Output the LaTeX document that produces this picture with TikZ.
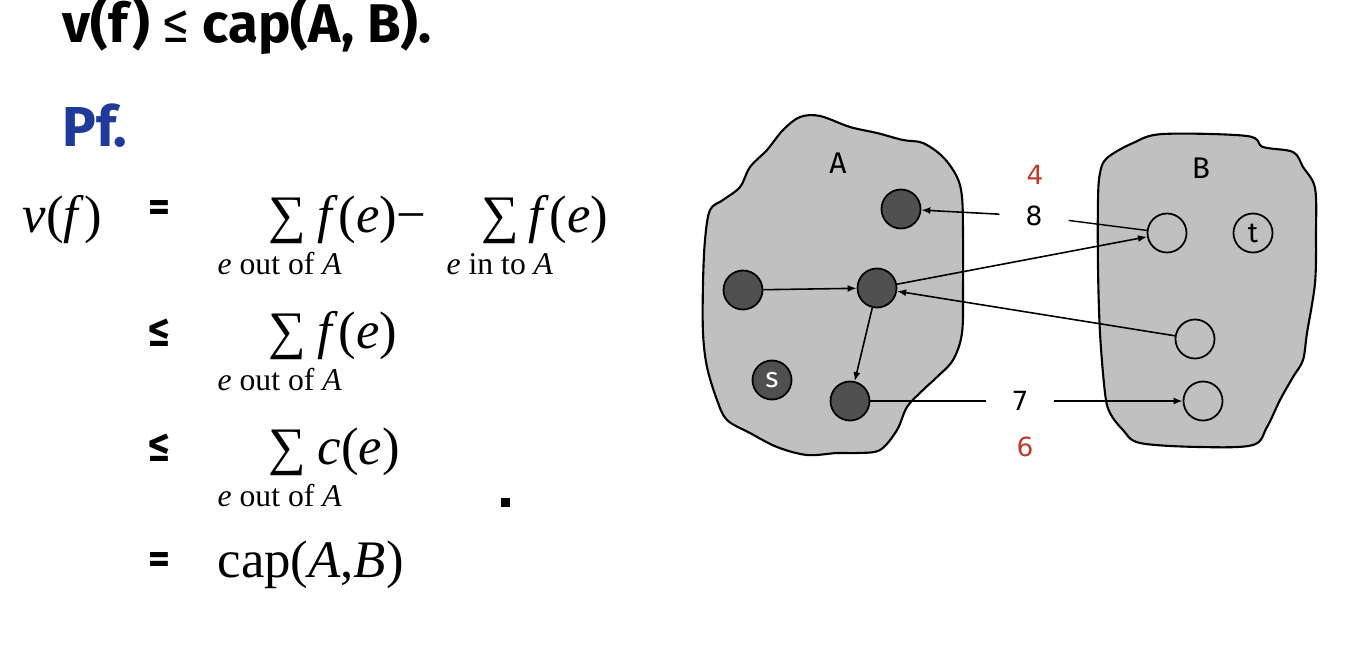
\documentclass[tikz,border=0pt]{standalone}
\usepackage{fontspec}
\setmainfont{Liberation Serif}
\newfontfamily\comicfont{Fira Sans}
\newfontfamily\labelfont{DejaVu Sans}
\usetikzlibrary{arrows.meta}
\definecolor{blobgray}{HTML}{C0C0C0}
\definecolor{vdark}{HTML}{505050}
\definecolor{pfblue}{HTML}{1F3A9A}
\definecolor{flowred}{HTML}{C0392B}

\begin{document}
\begin{tikzpicture}[x=0.01cm,y=-0.01cm,
  ttl/.style={font=\comicfont\bfseries\fontsize{15.5}{18}\selectfont,inner sep=0pt},
  rel/.style={font=\comicfont\bfseries\fontsize{12}{14}\selectfont,inner sep=0pt},
  mth/.style={font=\fontsize{15}{18}\selectfont,inner sep=0pt},
  sub/.style={font=\fontsize{9}{11}\selectfont,inner sep=0pt},
  blob/.style={draw=black,fill=blobgray,line width=0.6pt},
  vin/.style={circle,draw=black,fill=vdark,line width=0.5pt,minimum size=3.9mm,inner sep=0pt},
  vout/.style={circle,draw=black,line width=0.5pt,minimum size=3.9mm,inner sep=0pt},
  setlbl/.style={font=\comicfont\fontsize{8.5}{10}\selectfont,inner sep=0pt},
  flw/.style={font=\labelfont\fontsize{7.5}{9}\selectfont,inner sep=0pt,minimum height=4mm},
  arr/.style={-{Latex[length=0.9mm,width=0.7mm]},line width=0.45pt}]
\useasboundingbox (0,0) rectangle (1360,648);

% claim and proof
\node[ttl,anchor=west] (claim) at (62,25) {v(f) {\mdseries ≤} cap(A,\ B).};
\node[ttl,text=pfblue,anchor=west,font=\comicfont\bfseries\fontsize{16}{18}\selectfont] (pf) at (62,126) {Pf.};

% row 1
\node[mth,anchor=base west] (vf) at (22,232) {\textit{v}(\textit{f})};
\node[rel] (eq1) at (159,211) {=};
\node[mth,anchor=base] (sum1) at (287,232) {∑};
\node[mth,anchor=base west] (t1) at (317,232) {\textit{f}(\textit{e})−};
\node[sub,anchor=base west] (u1) at (217,274) {\textit{e} out of \textit{A}};
\node[mth,anchor=base] (sum2) at (500,232) {∑};
\node[mth,anchor=base west] (t2) at (528,232) {\textit{f}(\textit{e})};
\node[sub,anchor=base west] (u2) at (446,274) {\textit{e} in to \textit{A}};

% row 2
\node[rel] (le1) at (159,333) {≤};
\node[mth,anchor=base] (sum3) at (287,348) {∑};
\node[mth,anchor=base west] (t3) at (317,348) {\textit{f}(\textit{e})};
\node[sub,anchor=base west] (u3) at (217,390) {\textit{e} out of \textit{A}};

% row 3
\node[rel] (le2) at (159,448) {≤};
\node[mth,anchor=base] (sum4) at (287,464) {∑};
\node[mth,anchor=base west] (t4) at (317,464) {\textit{c}(\textit{e})};
\node[sub,anchor=base west] (u4) at (217,506) {\textit{e} out of \textit{A}};
\node[fill=black,minimum size=0.9mm,inner sep=0pt] (qed) at (505,502) {};

% row 4
\node[rel] (eq2) at (159,563) {=};
\node[mth,anchor=base west] (t5) at (217,577) {cap(\textit{A},\textit{B})};

% the two sides of the cut
\draw[blob] plot[smooth cycle,tension=0.55] coordinates {(800,117) (820,116) (850,127)
  (877,133) (903,140) (923,143) (943,157) (957,177) (962,197) (963,233) (963,287)
  (962,333) (953,360) (937,377) (923,390) (907,407) (897,430) (880,450) (857,453)
  (837,453) (807,455) (777,447) (750,433) (727,420) (717,400) (707,367) (703,333)
  (703,283) (705,240) (710,210) (723,200) (740,187) (750,167) (767,150) (783,130)};
\draw[blob] plot[smooth cycle,tension=0.55] coordinates {(1107,158) (1133,143) (1163,134)
  (1247,136) (1263,147) (1293,152) (1303,167) (1315,188) (1316,233) (1315,283)
  (1307,333) (1303,360) (1293,377) (1280,400) (1267,427) (1253,445) (1200,447)
  (1140,443) (1123,430) (1110,413) (1105,393) (1100,333) (1098,267) (1098,200)
  (1100,173)};
\node[setlbl] (lA) at (838,163) {A};
\node[setlbl] (lB) at (1201,168) {B};

% vertices
\node[vin] (a1) at (901,209) {};
\node[vin] (a2) at (743,290) {};
\node[vin] (a3) at (877,288) {};
\node[vin,text=white,font=\comicfont\fontsize{8}{10}\selectfont] (s) at (772,380) {s};
\node[vin] (a4) at (850,401) {};
\node[vout] (b1) at (1167,233) {};
\node[vout,font=\comicfont\fontsize{8}{10}\selectfont] (t) at (1253,233) {t};
\node[vout] (b2) at (1195,339) {};
\node[vout] (b3) at (1203,401) {};

% capacities and flows
\node[flw,minimum width=6.8mm] (l8) at (1034,216) {8};
\node[flw,minimum width=6.6mm] (l7) at (1020,401) {7};
\node[flw,text=flowred] (f4) at (1035,175) {4};
\node[flw,text=flowred] (f6) at (1025,447) {6};

\draw[arr] (a2) -- (a3);
\draw[arr] (a3) -- (a4);
\draw[arr] (a3) -- (b1);
\draw[arr] (b2) -- (a3);
\draw (b1) -- (l8);
\draw[arr] (l8) -- (a1);
\draw (a4) -- (l7);
\draw[arr] (l7) -- (b3);
\end{tikzpicture}
\end{document}
